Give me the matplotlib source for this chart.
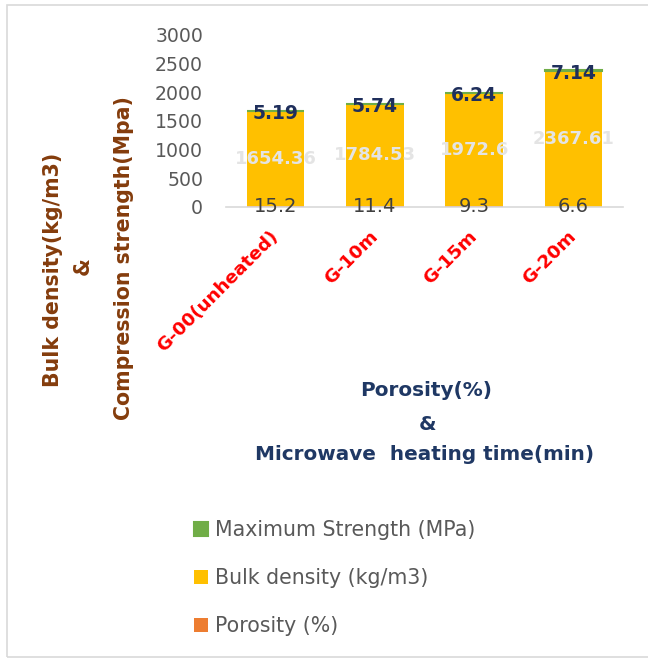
import matplotlib
matplotlib.use("Agg")
import matplotlib.pyplot as plt
from matplotlib.patches import Rectangle

# Sample data
samples = ["G-00(unheated)", "G-10m", "G-15m", "G-20m"]
porosity = [15.2, 11.4, 9.3, 6.6]
bulk_density = [1654.36, 1784.53, 1972.6, 2367.61]
max_strength = [5.19, 5.74, 6.24, 7.14]
y_ticks = [0, 500, 1000, 1500, 2000, 2500, 3000]

W, H = 648, 659
fig = plt.figure(figsize=(W / 100, H / 100), dpi=100)
fig.patch.set_facecolor("white")


def px(x, y):
    """pixel position (from top-left) -> figure fraction"""
    return x / W, 1 - y / H


# outer chart frame (runs off the right edge)
fig.add_artist(Rectangle(px(7, 657), 700 / W, 652 / H, transform=fig.transFigure,
                         fill=False, edgecolor="#D9D9D9", linewidth=1.2))

ax = fig.add_axes([226 / W, 1 - 207 / H, 397 / W, 172 / H])
x = list(range(len(samples)))
bw = 0.58

b_por = ax.bar(x, porosity, bw, color="#ED7D31", label="Porosity (%)")
b_bulk = ax.bar(x, bulk_density, bw, bottom=porosity, color="#FFC000",
                label="Bulk density (kg/m3)")
top_base = [p + b for p, b in zip(porosity, bulk_density)]
b_str = ax.bar(x, max_strength, bw, bottom=top_base, color="#70AD47",
               edgecolor="#70AD47", linewidth=1.5, label="Maximum Strength (MPa)")

ax.bar_label(b_por, labels=[f"{v:g}" for v in porosity], label_type="center",
             color="#404040", fontsize=14)
ax.bar_label(b_bulk, labels=[f"{v:g}" for v in bulk_density], label_type="center",
             color="#E4E4E4", fontsize=13, fontweight="bold")
ax.bar_label(b_str, labels=[f"{v:g}" for v in max_strength], label_type="center",
             color="#1F2F5C", fontsize=13.5, fontweight="bold", padding=-2)

ax.set_xlim(-0.5, len(samples) - 0.5)
ax.set_ylim(0, 3000)
ax.set_yticks(y_ticks)
ax.tick_params(axis="y", length=0, pad=16.5, labelsize=13.6, labelcolor="#595959")
ax.set_xticks(x)
ax.set_xticklabels(samples, rotation=45, ha="right", va="center",
                   rotation_mode="anchor", color="#FF0000",
                   fontweight="bold", fontsize=13.2)
ax.tick_params(axis="x", length=0, pad=19.5)
for s in ["left", "right", "top"]:
    ax.spines[s].set_visible(False)
ax.spines["bottom"].set_color("#D9D9D9")
ax.spines["bottom"].set_linewidth(1.2)

# axis titles
ytc = "#843C0C"
for txt, (cx, cy) in [("Bulk density(kg/m3)", (53, 270)), ("&", (83, 266)),
                      ("Compression strength(Mpa)", (124, 258))]:
    fig.text(*px(cx, cy), txt, rotation=90, ha="center", va="center",
             color=ytc, fontsize=14.8, fontweight="bold")

xtc = "#1F3864"
for txt, (cx, cy) in [("Porosity(%)", (426, 390)), ("&", (427, 425)),
                      ("Microwave  heating time(min)", (425, 455))]:
    fig.text(*px(cx, cy), txt, ha="center", va="center",
             color=xtc, fontsize=14.4, fontweight="bold")

fig.legend(handles=[b_str, b_bulk, b_por], loc="upper left",
           bbox_to_anchor=px(194, 520), frameon=False, fontsize=14.8,
           handlelength=0.7, handleheight=0.7, handletextpad=0.3,
           labelspacing=1.36, borderpad=0, borderaxespad=0, labelcolor="#595959")

fig.savefig("out.png", dpi=100, facecolor="white")
